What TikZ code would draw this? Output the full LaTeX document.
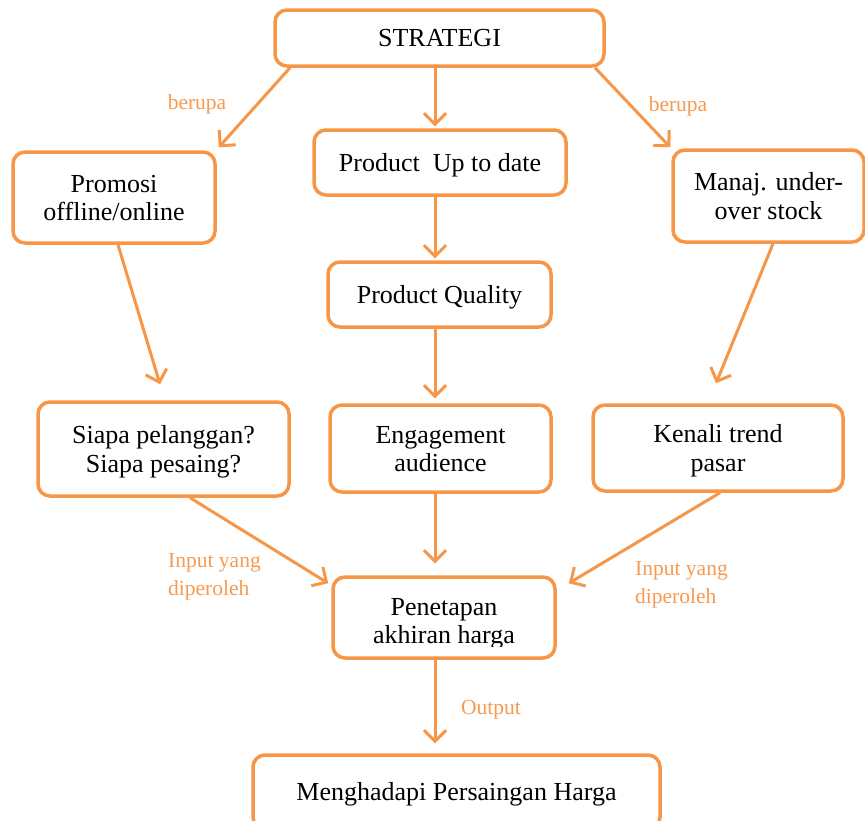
\documentclass[tikz,border=0pt]{standalone}
\usepackage{fontspec}
\setmainfont{Liberation Serif}
\usetikzlibrary{arrows.meta,calc}
\definecolor{org}{HTML}{F79646}
\definecolor{lbl}{HTML}{F79A50}
\begin{document}
\begin{tikzpicture}[x=1pt,y=-1pt,
 box/.style={draw=org, line width=3.5pt, rounded corners=12pt, fill=white, inner sep=0pt, align=flush center,
   text width=#1, minimum width=#1, font=\fontsize{26}{28.5}\selectfont,
   execute at begin node={\rule{0pt}{24pt}}, execute at end node={\rule[-6.5pt]{0pt}{6.5pt}}},
 arr/.style={draw=org, line width=3pt, -{Straight Barb[length=11pt,width=22pt,line width=3pt]}},
 lab/.style={text=lbl, font=\fontsize{21.5}{28}\selectfont, align=left, inner sep=0pt}]
\useasboundingbox (0,0) rectangle (865,820);
\node[box=329pt, minimum height=56pt] (strat) at (439.5,38) {STRATEGI};
\node[box=252pt, minimum height=65pt] (upd) at (440,162.5) {Product\ \ Up to date};
\node[box=202pt, minimum height=91pt] (promo) at (114,197.5) {Promosi\\offline/online};
\node[box=191pt, minimum height=92pt] (manaj) at (768.5,196) {Manaj. under-\\over stock};
\node[box=223pt, minimum height=65pt] (pq) at (439.5,294.5) {Product Quality};
\node[box=251pt, minimum height=94pt] (siapa) at (163.5,449) {Siapa pelanggan?\\Siapa pesaing?};
\node[box=221pt, minimum height=87pt] (eng) at (440.5,448.5) {Engagement\\audience};
\node[box=250pt, minimum height=86pt] (kenali) at (718,448) {Kenali trend\\pasar};
\node[draw=org, line width=3.5pt, rounded corners=12pt, fill=white, minimum width=222pt, minimum height=81pt] (pen) at (444,617.5) {};
\begin{scope}
\clip (333,580) rectangle (555,646);
\node[align=center, inner sep=0pt, font=\fontsize{26}{28.5}\selectfont] (pentext) at (444,624) {Penetapan\\akhiran harga};
\end{scope}
\node[box=407pt, minimum height=74pt] (mengh) at (456.5,792) {Menghadapi Persaingan Harga};

\draw[arr] ([xshift=-149.5pt]strat.south) -- ([xshift=2pt,yshift=3pt]promo.north east);
\draw[arr] ([xshift=155.5pt]strat.south) -- ([xshift=-1pt,yshift=1pt]manaj.north west);
\draw[arr] ([xshift=-4.5pt]strat.south) -- ([xshift=-5pt,yshift=2pt]upd.north);
\draw[arr] ([xshift=-5pt]upd.south) -- ([xshift=-4.5pt,yshift=2pt]pq.north);
\draw[arr] ([xshift=-4.5pt]pq.south) -- ([xshift=-5.5pt,yshift=5pt]eng.north);
\draw[arr] ([xshift=4pt]promo.south) -- ([xshift=-3.5pt,yshift=16pt]siapa.north);
\draw[arr] ([xshift=4.5pt]manaj.south) -- ([xshift=-2pt,yshift=20pt]kenali.north);
\draw[arr] ([xshift=26.5pt]siapa.south) -- ([xshift=-3pt,yshift=-8pt]pen.north west);
\draw[arr] ([xshift=-5.5pt]eng.south) -- ([xshift=-9pt,yshift=12pt]pen.north);
\draw[arr] ([xshift=2pt]kenali.south) -- ([xshift=12pt,yshift=-8pt]pen.north east);
\draw[arr] ([xshift=-9pt]pen.south) -- ([xshift=-21.5pt,yshift=10pt]mengh.north);

\node[lab] (l1) at (197,104) {berupa};
\node[lab] (l2) at (678,106) {berupa};
\node[lab, anchor=west] (l3) at (168,577) {Input yang\\diperoleh};
\node[lab, anchor=west] (l4) at (635,585) {Input yang\\diperoleh};
\node[lab] (l5) at (491,710) {Output};
\end{tikzpicture}
\end{document}
